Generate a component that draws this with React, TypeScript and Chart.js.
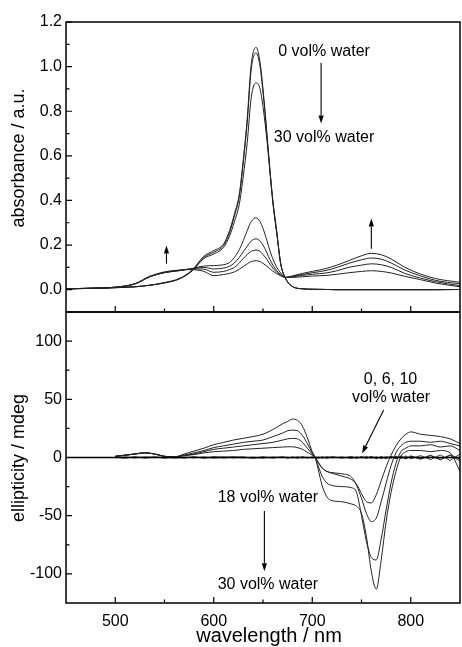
import React, { useEffect, useRef } from 'react';
import { Chart, registerables } from 'chart.js';

Chart.register(...registerables);

const FONT = "'Liberation Sans', Arial, Helvetica, sans-serif";
const INK = '#000000';
const CURVE = '#222222';

// ---------- top panel: absorbance ----------
const WL_ABS = [450, 480, 500, 520, 535, 550, 565, 578, 590, 600, 610, 616, 621, 626, 630, 634, 638, 643, 647, 650, 654, 657, 660, 664, 668, 673, 680, 690, 700, 714, 725, 737, 750, 760, 770, 780, 794, 810, 825, 850];
const ABS_0 = [0.004, 0.006, 0.009, 0.013, 0.02, 0.032, 0.05, 0.088, 0.15, 0.175, 0.205, 0.265, 0.34, 0.43, 0.585, 0.77, 1.01, 1.086, 1.02, 0.9, 0.7, 0.54, 0.4, 0.26, 0.117, 0.05, 0.014, 0.004, 0.002, 0.001, 0, 0, 0, 0, 0, 0, 0, 0, 0, 0.001];
const ABS_6 = [0.004, 0.006, 0.009, 0.013, 0.02, 0.031, 0.049, 0.086, 0.145, 0.168, 0.198, 0.255, 0.33, 0.42, 0.57, 0.75, 0.985, 1.062, 1.0, 0.885, 0.69, 0.535, 0.395, 0.255, 0.115, 0.05, 0.014, 0.004, 0.002, 0.001, 0, 0, 0, 0, 0, 0, 0, 0, 0, 0.001];
const ABS_10 = [0.004, 0.006, 0.009, 0.013, 0.02, 0.03, 0.048, 0.084, 0.14, 0.16, 0.19, 0.24, 0.305, 0.385, 0.51, 0.66, 0.86, 0.927, 0.9, 0.82, 0.67, 0.53, 0.39, 0.25, 0.115, 0.05, 0.014, 0.004, 0.002, 0.001, 0, 0, 0, 0, 0, 0, 0, 0, 0, 0.001];
const ABS_18 = [0.004, 0.007, 0.011, 0.026, 0.058, 0.076, 0.085, 0.095, 0.106, 0.108, 0.112, 0.122, 0.145, 0.18, 0.22, 0.265, 0.305, 0.322, 0.305, 0.275, 0.22, 0.175, 0.138, 0.1, 0.075, 0.055, 0.055, 0.058, 0.061, 0.064, 0.069, 0.076, 0.082, 0.085, 0.082, 0.075, 0.06, 0.045, 0.03, 0.013];
const ABS_22 = [0.004, 0.007, 0.011, 0.026, 0.058, 0.077, 0.086, 0.094, 0.1, 0.093, 0.097, 0.105, 0.12, 0.145, 0.17, 0.195, 0.218, 0.228, 0.218, 0.2, 0.165, 0.135, 0.11, 0.085, 0.068, 0.055, 0.058, 0.064, 0.069, 0.075, 0.085, 0.1, 0.11, 0.116, 0.112, 0.1, 0.073, 0.052, 0.036, 0.018];
const ABS_26 = [0.004, 0.007, 0.011, 0.026, 0.058, 0.078, 0.087, 0.093, 0.092, 0.078, 0.082, 0.09, 0.1, 0.12, 0.14, 0.158, 0.172, 0.178, 0.172, 0.158, 0.135, 0.115, 0.097, 0.078, 0.065, 0.055, 0.06, 0.068, 0.076, 0.086, 0.1, 0.118, 0.134, 0.142, 0.137, 0.12, 0.088, 0.062, 0.042, 0.026];
const ABS_30 = [0.004, 0.007, 0.011, 0.027, 0.06, 0.08, 0.088, 0.09, 0.082, 0.063, 0.068, 0.073, 0.08, 0.092, 0.104, 0.116, 0.126, 0.13, 0.126, 0.118, 0.105, 0.094, 0.083, 0.072, 0.062, 0.055, 0.062, 0.073, 0.082, 0.095, 0.11, 0.13, 0.152, 0.163, 0.157, 0.138, 0.1, 0.07, 0.05, 0.033];
const ABS_TICKS = [0, 0.2, 0.4, 0.6, 0.8, 1.0, 1.2];
const ABS_MINOR = [-0.1, 0.1, 0.3, 0.5, 0.7, 0.9, 1.1];

// ---------- bottom panel: CD ----------
const WL_CD = [500, 510, 520, 530, 540, 550, 560, 570, 580, 590, 600, 610, 620, 630, 640, 650, 660, 670, 675, 680, 685, 690, 695, 700, 703, 706, 710, 715, 720, 730, 740, 745, 750, 755, 760, 765, 770, 775, 780, 785, 790, 795, 800, 810, 820, 830, 840, 850];
const CD_0 = [0.4, -0.3, 0.6, -0.5, 0.3, -0.4, 0.5, -0.2, 0.6, -0.6, 0.3, 0.5, -0.4, 0.2, -0.5, 0.6, -0.3, 0.4, -0.6, 0.5, -0.3, 0.4, -0.5, 0.3, 0, -0.6, 0.5, -0.4, 0.6, -0.5, 0.4, -0.7, 0.8, -0.5, 0.6, -0.9, 0.7, -0.6, 1.0, -0.8, 0.9, -1.2, 1.0, -1.4, 1.6, -2.0, 2.4, -1.5];
const CD_6 = [-0.3, 0.5, -0.4, 0.6, -0.2, 0.5, -0.6, 0.4, -0.3, 0.5, -0.5, 0.2, 0.6, -0.4, 0.3, -0.6, 0.5, -0.2, 0.4, -0.5, 0.6, -0.4, 0.3, -0.5, 0, 0.5, -0.6, 0.7, -0.4, 0.5, -0.8, 0.6, -0.5, 0.9, -0.7, 0.6, -1.0, 0.8, -0.6, 1.1, -0.9, 1.3, -1.1, 1.6, -1.8, 2.2, -2.6, 3.0];
const CD_10 = [0.2, -0.5, 0.3, -0.2, 0.6, -0.4, 0.2, -0.5, 0.4, -0.3, 0.6, -0.5, 0.3, 0.5, -0.6, 0.2, -0.4, 0.6, -0.3, 0.2, -0.5, 0.6, -0.2, 0.4, 0, -0.4, 0.3, -0.6, 0.5, -0.3, 0.7, -0.5, 0.4, -0.8, 0.9, -0.6, 0.5, -1.0, 0.7, -0.9, 1.2, -1.0, 1.4, -1.3, 2.0, -1.6, 1.8, -3.0];
const CD_18 = [1, 2, 3, 4, 3, 1, 0.5, 1.5, 2.5, 4, 5, 5.5, 6, 7, 7.5, 8, 8.5, 9, 9.2, 9.2, 8.5, 7, 4.5, 2, 0, -4, -9, -12, -13.5, -16, -19, -23, -31, -38, -39, -32, -20, -8, 2, 10, 16, 20, 22, 20, 19, 18, 16, 12];
const CD_22 = [1, 2, 3, 4, 3, 1, 0.5, 2, 3, 5, 7, 8, 9, 10, 11, 12, 13, 15, 16, 16.4, 16, 13, 8, 3, 0, -4, -9, -12, -13, -14, -17, -24, -35, -48, -55, -52, -38, -22, -7, 4, 10, 13, 14, 14, 13, 14, 12, 10];
const CD_26 = [1, 2, 3, 4, 3, 1, 0.5, 2, 4, 6, 8.5, 10, 11.5, 13, 14, 15, 18, 21, 23, 23.5, 23, 19, 12, 4, 0, -7, -16, -22, -24, -25, -26, -30, -50, -72, -86, -88, -70, -45, -22, -5, 5, 8, 10, 10, 11, 9, 10, 6];
const CD_30 = [1, 2, 3, 4, 3, 1, 0.5, 3, 5.5, 8, 11, 13, 15, 16.5, 18, 20, 24, 29, 31, 33, 32, 27, 17, 5, 0, -10, -24, -34, -37, -38, -40, -42, -48, -68, -98, -113, -88, -55, -30, -12, 1, 5, 6, 6, 5, 6, 4, -12];
const ZERO_X = [450, 850];
const ZERO_Y = [0, 0];
const CD_TICKS = [-100, -50, 0, 50, 100];
const CD_MINOR = [-75, -25, 25, 75];

const WL_TICKS = [500, 600, 700, 800];
const WL_MINOR = [550, 650, 750];

type Txt = { kind: 'text'; x: number; y: number; text: string };
type Arr = { kind: 'arrow'; x1: number; y1: number; x2: number; y2: number };
type Ann = Txt | Arr;

const TOP_NOTES: Ann[] = [
  { kind: 'text', x: 712, y: 1.066, text: '0 vol% water' },
  { kind: 'arrow', x1: 709, y1: 1.016, x2: 709, y2: 0.745 },
  { kind: 'text', x: 712, y: 0.684, text: '30 vol% water' },
  { kind: 'arrow', x1: 552, y1: 0.117, x2: 552, y2: 0.198 },
  { kind: 'arrow', x1: 760, y1: 0.184, x2: 760, y2: 0.319 },
];
const BOTTOM_NOTES: Ann[] = [
  { kind: 'text', x: 779.5, y: 66.8, text: '0, 6, 10' },
  { kind: 'text', x: 780, y: 51.5, text: 'vol% water' },
  { kind: 'arrow', x1: 772.5, y1: 40.8, x2: 750.6, y2: 3.5 },
  { kind: 'text', x: 655, y: -34.5, text: '18 vol% water' },
  { kind: 'arrow', x1: 651.4, y1: -45.9, x2: 651.4, y2: -97.7 },
  { kind: 'text', x: 655, y: -108.8, text: '30 vol% water' },
];

const xy = (xs: number[], ys: number[]) => xs.map((x, i) => ({ x, y: ys[i] }));

function curve(xs: number[], ys: number[], smooth = true, width = 1, color = CURVE) {
  return {
    data: xy(xs, ys),
    borderColor: color,
    borderWidth: width,
    pointRadius: 0,
    fill: false,
    cubicInterpolationMode: smooth ? 'monotone' : 'default',
    tension: 0,
  } as any;
}

function panelPlugin(cfg: {
  yMajor: number[]; yMinor: number[]; title: string; titleX: number; titleY: number;
  notes: Ann[]; xTitle?: { text: string; x: number; y: number };
}) {
  return {
    id: 'panelDeco',
    afterDraw(chart: any) {
      const { ctx, chartArea: a, scales } = chart;
      const xs = scales.x;
      const ys = scales.y;
      ctx.save();
      ctx.strokeStyle = INK;
      ctx.lineWidth = 1.5;
      ctx.strokeRect(a.left, a.top, a.right - a.left, a.bottom - a.top);
      ctx.lineWidth = 1.2;
      ctx.beginPath();
      WL_TICKS.forEach((v) => { const p = xs.getPixelForValue(v); ctx.moveTo(p, a.bottom); ctx.lineTo(p, a.bottom - 6); });
      WL_MINOR.forEach((v) => { const p = xs.getPixelForValue(v); ctx.moveTo(p, a.bottom); ctx.lineTo(p, a.bottom - 3.5); });
      cfg.yMajor.forEach((v) => { const p = ys.getPixelForValue(v); ctx.moveTo(a.left, p); ctx.lineTo(a.left + 6, p); });
      cfg.yMinor.forEach((v) => { const p = ys.getPixelForValue(v); ctx.moveTo(a.left, p); ctx.lineTo(a.left + 3.5, p); });
      ctx.stroke();

      ctx.fillStyle = INK;
      ctx.textAlign = 'center';
      ctx.textBaseline = 'middle';
      ctx.font = `18px ${FONT}`;
      ctx.save();
      ctx.translate(cfg.titleX, cfg.titleY);
      ctx.rotate(-Math.PI / 2);
      ctx.fillText(cfg.title, 0, 0);
      ctx.restore();
      if (cfg.xTitle) {
        ctx.font = `20px ${FONT}`;
        ctx.fillText(cfg.xTitle.text, cfg.xTitle.x, cfg.xTitle.y);
      }

      ctx.font = `16px ${FONT}`;
      ctx.lineWidth = 1.1;
      cfg.notes.forEach((n) => {
        if (n.kind === 'text') {
          ctx.fillText(n.text, xs.getPixelForValue(n.x), ys.getPixelForValue(n.y));
        } else {
          const x1 = xs.getPixelForValue(n.x1), y1 = ys.getPixelForValue(n.y1);
          const x2 = xs.getPixelForValue(n.x2), y2 = ys.getPixelForValue(n.y2);
          const ang = Math.atan2(y2 - y1, x2 - x1);
          const hl = 8, hw = 2.6;
          const bx = x2 - hl * Math.cos(ang), by = y2 - hl * Math.sin(ang);
          ctx.beginPath();
          ctx.moveTo(x1, y1);
          ctx.lineTo(bx, by);
          ctx.stroke();
          ctx.beginPath();
          ctx.moveTo(x2, y2);
          ctx.lineTo(bx + hw * Math.sin(ang), by - hw * Math.cos(ang));
          ctx.lineTo(bx - hw * Math.sin(ang), by + hw * Math.cos(ang));
          ctx.closePath();
          ctx.fill();
        }
      });
      ctx.restore();
    },
  };
}

const tickFont = { family: FONT, size: 16 };

export default function App() {
  const topRef = useRef<HTMLCanvasElement>(null);
  const botRef = useRef<HTMLCanvasElement>(null);

  useEffect(() => {
    const top = new Chart(topRef.current as HTMLCanvasElement, {
      type: 'line',
      data: {
        datasets: [ABS_0, ABS_6, ABS_10, ABS_18, ABS_22, ABS_26, ABS_30].map((s) => curve(WL_ABS, s)),
      },
      options: {
        responsive: false,
        maintainAspectRatio: false,
        animation: false,
        events: [],
        layout: { padding: { top: 22, bottom: 335, left: 0, right: 2 } },
        plugins: { legend: { display: false }, tooltip: { enabled: false } },
        scales: {
          x: { type: 'linear', min: 450, max: 850, display: false },
          y: {
            type: 'linear', min: -0.1, max: 1.2,
            afterBuildTicks: (s: any) => { s.ticks = ABS_TICKS.map((v) => ({ value: v })); },
            afterFit: (s: any) => { s.width = 66; },
            grid: { display: false, drawTicks: false },
            border: { display: false },
            ticks: { font: tickFont, color: INK, padding: 4, callback: (v: any) => Number(v).toFixed(1) },
          },
        },
      } as any,
      plugins: [panelPlugin({ yMajor: ABS_TICKS, yMinor: ABS_MINOR, title: 'absorbance / a.u.', titleX: 19, titleY: 158, notes: TOP_NOTES })],
    });

    const bottom = new Chart(botRef.current as HTMLCanvasElement, {
      type: 'line',
      data: {
        datasets: [
          curve(ZERO_X, ZERO_Y, false, 1.4, INK),
          curve(WL_CD, CD_0, false, 0.9),
          curve(WL_CD, CD_6, false, 0.9),
          curve(WL_CD, CD_10, false, 0.9),
          curve(WL_CD, CD_18),
          curve(WL_CD, CD_22),
          curve(WL_CD, CD_26),
          curve(WL_CD, CD_30),
        ],
      },
      options: {
        responsive: false,
        maintainAspectRatio: false,
        animation: false,
        events: [],
        layout: { padding: { top: 312, bottom: 0, left: 0, right: 2 } },
        plugins: { legend: { display: false }, tooltip: { enabled: false } },
        scales: {
          x: {
            type: 'linear', min: 450, max: 850,
            afterBuildTicks: (s: any) => { s.ticks = WL_TICKS.map((v) => ({ value: v })); },
            afterFit: (s: any) => { s.height = 44; },
            grid: { display: false, drawTicks: false },
            border: { display: false },
            ticks: { font: tickFont, color: INK, padding: 9, maxRotation: 0, autoSkip: false, callback: (v: any) => String(v) },
          },
          y: {
            type: 'linear', min: -125, max: 125,
            afterBuildTicks: (s: any) => { s.ticks = CD_TICKS.map((v) => ({ value: v })); },
            afterFit: (s: any) => { s.width = 66; },
            grid: { display: false, drawTicks: false },
            border: { display: false },
            ticks: { font: tickFont, color: INK, padding: 4, callback: (v: any) => String(v) },
          },
        },
      } as any,
      plugins: [panelPlugin({
        yMajor: CD_TICKS, yMinor: CD_MINOR, title: 'ellipticity / mdeg', titleX: 19, titleY: 458, notes: BOTTOM_NOTES,
        xTitle: { text: 'wavelength / nm', x: 269, y: 636 },
      })],
    });

    return () => {
      top.destroy();
      bottom.destroy();
    };
  }, []);

  const cs: React.CSSProperties = { position: 'absolute', left: 0, top: 0 };
  return (
    <div style={{ position: 'fixed', left: 0, top: 0, width: 462, height: 647, background: '#fff' }}>
      <canvas ref={topRef} width={462} height={647} style={cs} />
      <canvas ref={botRef} width={462} height={647} style={cs} />
    </div>
  );
}
